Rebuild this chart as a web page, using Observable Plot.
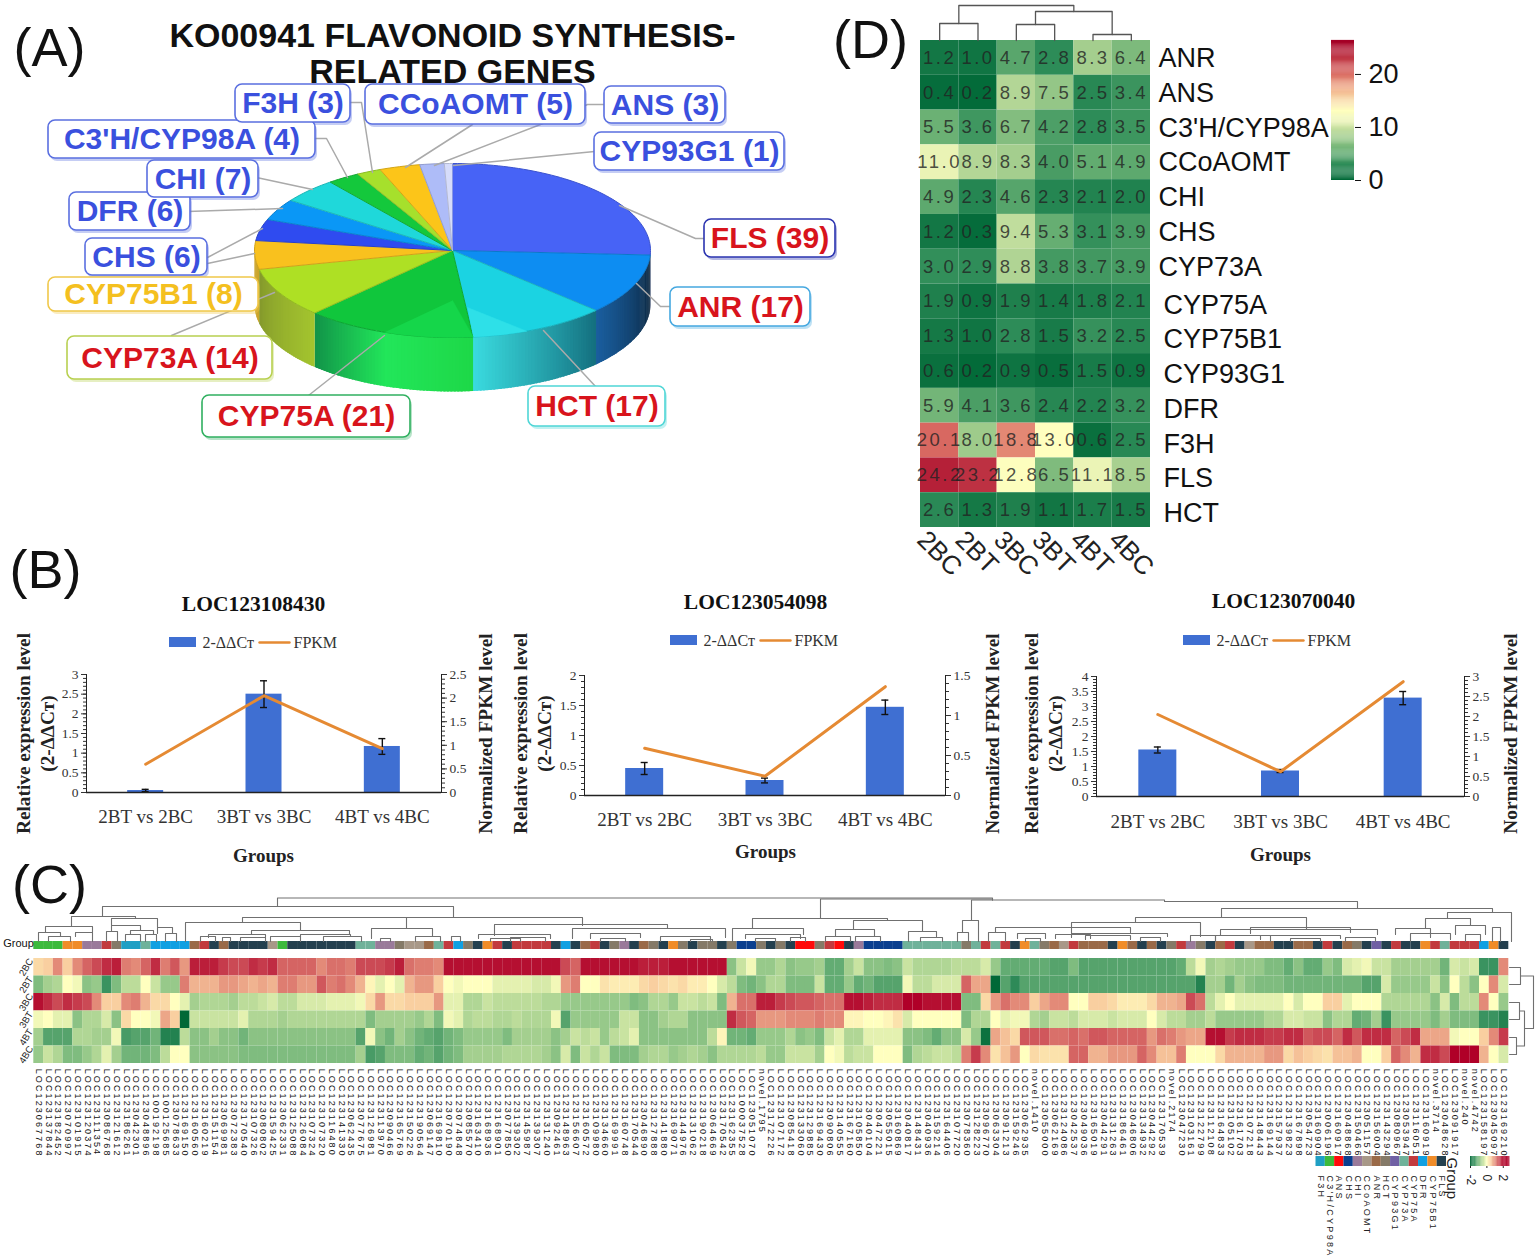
<!DOCTYPE html>
<html><head><meta charset="utf-8">
<script src="https://cdn.jsdelivr.net/npm/d3@7"></script>
<script src="https://cdn.jsdelivr.net/npm/@observablehq/plot@0.6"></script>
<style>
html,body{margin:0;padding:0;background:#fff;overflow:hidden}
#stack{position:relative;width:1535px;height:1259px;overflow:hidden}
#stack svg{position:absolute;left:0;top:0;max-width:none!important;height:1259px!important}
</style></head><body><div id="stack"></div>
<script>
// ---------- Panel A data
const pieNames=["FLS","ANR","HCT","CYP75A","CYP73A","CYP75B1","CHS","DFR","CHI","C3'H/CYP98A","F3H","CCoAOMT","ANS","CYP93G1"];
const pieCounts=[39,17,17,21,14,8,6,6,7,4,3,5,3,1];
const pieColors=["#4763f6","#0d8df2","#1bd3e2","#10c63c","#aee024","#f9c11e","#2f4bf0","#0a97f6","#1fd8da","#14c83c","#a6e02c","#fcc519","#aebcf8","#d6dcfa"];
const pieWalls=[["#0a2238","#22389c"],["#0a2238","#1a5fa0"],["#14707f","#3adce0"],["#1ed848","#22e65a","#119048"],["#a3c42e","#84982c"],["#c8a020","#c8a020"]];
// ---------- Panel B data
const bGroups=["2BT vs 2BC","3BT vs 3BC","4BT vs 4BC"];
const b1Bars=[0.05,2.5,1.17], b1Err=[0.03,0.34,0.2], b1Line=[0.6,2.05,0.93];
const b2Bars=[0.45,0.25,1.47], b2Err=[0.1,0.04,0.12], b2Line=[0.59,0.24,1.36];
const b3Bars=[1.55,0.85,3.28], b3Err=[0.1,0.05,0.22], b3Line=[2.05,0.62,2.87];
// ---------- Panel D data
const dCols=["2BC","2BT","3BC","3BT","4BT","4BC"];
const dGenes=["ANR","ANS","C3'H/CYP98A","CCoAOMT","CHI","CHS","CYP73A","CYP75A","CYP75B1","CYP93G1","DFR","F3H","FLS","HCT"];
const dANR=[1.2,1.0,4.7,2.8,8.3,6.4], dANS=[0.4,0.2,8.9,7.5,2.5,3.4], dC3H=[5.5,3.6,6.7,4.2,2.8,3.5];
const dCCo=[11.0,8.9,8.3,4.0,5.1,4.9], dCHI=[4.9,2.3,4.6,2.3,2.1,2.0], dCHS=[1.2,0.3,9.4,5.3,3.1,3.9];
const d73A=[3.0,2.9,8.8,3.8,3.7,3.9], d75A=[1.9,0.9,1.9,1.4,1.8,2.1], d75B=[1.3,1.0,2.8,1.5,3.2,2.5];
const d93G=[0.6,0.2,0.9,0.5,1.5,0.9], dDFR=[5.9,4.1,3.6,2.4,2.2,3.2], dF3H=[20.1,8.0,18.8,13.0,0.6,2.5];
const dFLS=[24.2,23.2,12.8,6.5,11.1,8.5], dHCT=[2.6,1.3,1.9,1.1,1.7,1.5];
const dValues=[dANR,dANS,dC3H,dCCo,dCHI,dCHS,d73A,d75A,d75B,d93G,dDFR,dF3H,dFLS,dHCT];
// ---------- Panel C data (tenths of z-score)
const cRows=["2BC","2BT","3BC","3BT","4BT","4BC"];
const c2BC=[4,5,10,5,10,13,15,17,18,11,10,13,17,11,14,9,18,18,18,16,15,15,17,16,17,13,13,13,13,10,12,12,11,15,15,15,16,18,12,11,
11,10,19,19,19,19,19,19,19,19,19,19,19,19,15,13,19,19,19,19,19,19,18,18,18,19,19,19,19,19,19,-9,-4,-1,-8,-8,-6,-9,-8,-8,
-7,-12,-12,-7,-4,-9,-9,-10,-9,-4,-6,-6,-6,-6,-5,-5,-5,-3,-8,-12,-12,-12,-12,-12,-13,-13,-10,-13,-13,-13,-13,-13,-13,-13,-13,-13,-13,-12,-5,-1,
-7,-6,-7,-8,-8,-8,-10,-10,-12,-9,-12,-12,-8,-10,-3,-2,-1,-4,-4,-7,-7,-7,-7,-7,-11,-3,-4,-3,-15,-15,10];
const c2BT=[-10,-7,-6,0,-1,-9,-8,-15,-10,-5,-5,0,-4,-8,-8,11,7,7,7,9,9,8,7,8,7,11,11,9,9,14,11,12,10,7,1,-2,0,-2,7,9,
9,5,0,-1,0,0,0,-2,-2,-2,-2,-3,-3,-1,9,11,0,0,3,2,2,2,4,5,4,3,4,2,2,0,-3,-5,-10,-11,-9,-6,-6,-10,-10,-10,
-4,-12,-12,-8,-12,-11,-13,-13,-13,-1,-5,-5,-3,-3,-3,13,8,8,-20,-13,-16,-13,-13,-13,-13,-13,-13,-13,-13,-13,-13,-13,-13,-13,-13,-13,-13,-13,-13,-17,
-7,-7,-11,-7,-9,-10,-10,-10,-11,-11,-11,-11,-11,-11,-11,-11,-13,-13,-3,-8,-8,-8,-8,-4,-9,0,-5,-9,0,10,-3];
const c3BC=[19,17,15,17,16,15,10,5,5,10,11,7,4,4,0,-2,-7,-6,-6,-6,-7,-5,-5,-4,-3,-5,-5,-3,-3,-3,-2,-2,-2,-1,4,9,4,4,5,5,
5,9,-2,-2,-6,-6,-4,-5,-5,-5,-5,-5,-6,-6,-8,-8,-8,-8,-8,-8,-8,-10,-9,-6,-6,-8,-4,-4,-5,-4,-10,7,12,12,18,18,16,15,14,14,
13,12,12,19,19,18,17,17,17,20,20,19,19,19,19,-10,-10,4,9,12,10,10,5,8,10,10,0,0,5,5,4,2,2,2,4,7,7,8,15,12,
-5,-2,0,-2,-2,-2,-2,-2,0,-3,0,0,5,5,-2,0,0,0,-6,-6,-6,-6,-6,-9,-3,-10,-5,-5,10,0,-8];
const c3BT=[-1,0,-2,-2,-9,-6,-6,-3,-9,4,0,0,-1,8,5,-20,-4,-4,-4,-4,-4,-2,-6,-6,-6,-7,-6,-6,-6,-6,-6,-6,-6,-6,-10,-7,-7,-7,-7,-8,
-6,-10,-1,-2,-6,-5,-5,-6,-6,-5,-6,-6,-6,-1,-13,-8,-8,-8,-8,-8,-4,-4,-9,-9,-7,-6,-6,-9,-9,-9,-9,17,14,13,9,9,9,10,10,10,
11,10,10,1,1,0,0,1,3,-3,0,0,0,0,0,-10,-6,-6,0,-2,-1,-1,-6,-7,-4,-4,-5,-3,-3,-3,-4,-3,-3,-3,0,-3,-5,-5,-7,-7,
-5,-8,-8,-8,-8,-8,-6,-6,-3,-3,-4,-4,-9,-6,-6,-12,-11,-7,-15,-8,-8,-8,-8,-10,-7,-10,-10,-10,-15,-15,-17];
const c4BT=[-7,-13,-13,-13,-6,-6,-7,-7,-1,-14,-13,-13,-11,-17,-17,-5,-9,-9,-7,-9,-9,-11,-9,-9,-9,-9,-9,-9,-9,-9,-9,-9,-9,-13,-1,-9,-11,-7,-9,-11,
-12,-13,-11,-10,-8,-8,-8,-8,-10,-7,-7,-7,-7,-9,-7,-4,-5,-4,-8,-5,-4,-2,-9,-9,-9,-9,-9,-9,-9,-5,1,-11,-11,-12,-8,-8,-8,-6,-9,-8,
-10,-4,-2,-6,-6,-2,-2,-2,-2,-9,-9,-10,-12,-9,-9,-3,-8,-19,8,6,4,14,14,14,12,12,13,12,14,14,13,13,13,13,9,12,11,9,8,8,
19,19,16,17,17,17,16,16,17,17,14,15,15,13,17,14,17,17,17,13,15,17,8,8,8,-1,0,0,5,10,16];
const c4BC=[-8,-4,-6,-10,-10,-8,-6,-2,-7,-11,-11,-11,-10,-5,0,0,-9,-9,-9,-9,-9,-10,-10,-10,-10,-10,-10,-10,-10,-10,-10,-10,-10,-7,-14,-13,-10,-10,-10,-12,
-11,-13,-11,-10,-7,-7,-7,-7,-6,-6,-6,-6,-7,-9,-3,-10,-4,-6,-4,-10,-10,-10,-7,-6,-6,-8,-7,-6,-7,-9,-6,-6,-6,-6,-5,-8,-8,-4,-4,-4,
-7,0,-1,-5,-4,-4,0,0,0,-10,-6,-5,-4,-4,-5,11,16,10,3,6,9,0,4,3,3,3,13,13,7,7,9,9,9,13,10,6,6,11,0,0,
0,4,7,7,7,7,9,9,4,6,5,4,3,6,6,7,0,0,5,13,10,7,17,17,15,20,20,20,7,0,-3];
const cValues=[c2BC,c2BT,c3BC,c3BT,c4BT,c4BC];
const cGroups=["C3H","C3H","C3H","CYP75B1","CYP75B1","CHI","CHI","CYP75A","HCT","F3H","F3H","CYP73A","DFR","DFR","DFR","DFR","ANR","CYP75A","FLS","ANR",
"FLS","FLS","FLS","FLS","CCoAOMT","C3H","FLS","FLS","FLS","FLS","FLS","FLS","FLS","CYP73A","CYP73A","CHI","CHI","HCT","CCoAOMT","CCoAOMT",
"ANR","CYP73A","CYP75A","DFR","HCT","FLS","CYP75B1","CYP75A","FLS","CYP75A","CYP75A","CYP75A","CYP75A","FLS","DFR","FLS","ANR","CYP75A","FLS","HCT",
"CHI","FLS","ANR","HCT","FLS","CYP75B1","HCT","FLS","HCT","HCT","FLS","HCT","CHS","CHS","HCT","FLS","HCT","FLS","ANS","ANS",
"HCT","CYP75A","ANS","FLS","CHI","CHS","CHS","CHS","CHS","CYP73A","CYP73A","CYP73A","CYP73A","CYP73A","CYP73A","HCT","CYP73A","CYP75A","CYP73A","CYP75A",
"FLS","CYP75B1","CYP73A","HCT","ANR","CCoAOMT","CYP75A","ANR","ANR","ANR","FLS","CYP75B1","ANR","FLS","ANR","FLS","HCT","CYP75A","CHI","HCT",
"FLS","ANR","CYP75A","FLS","CCoAOMT","ANR","ANR","FLS","FLS","ANR","ANR","FLS","CYP75A","FLS","ANR","HCT","FLS","CYP93G1","FLS","CYP75A",
"FLS","FLS","CYP75B1","CYP75A","CYP73A","CYP75A","CYP75A","CYP75A","DFR","CYP75B1","FLS"];
const groupPalette={F3H:"#1f9fc4",C3H:"#3cba3c",ANS:"#ff0a0a",CHS:"#0b3f8f",CHI:"#9a7a9a",CCoAOMT:"#a89888",ANR:"#9a6a48",HCT:"#857a68",CYP93G1:"#7060a4",CYP73A:"#6fb29a",CYP75A:"#c23a3e",DFR:"#10a0e2",CYP75B1:"#f08c28",FLS:"#24404f"};
const legendNames=["F3H","C3'H/CYP98A","ANS","CHS","CHI","CCoAOMT","ANR","HCT","CYP93G1","CYP73A","CYP75A","DFR","CYP75B1","FLS"];
const legendKeys=["F3H","C3H","ANS","CHS","CHI","CCoAOMT","ANR","HCT","CYP93G1","CYP73A","CYP75A","DFR","CYP75B1","FLS"];
const cGenes=["LOC123067768","LOC123137844","LOC123182452","LOC123070997","LOC123101915","LOC123120374","LOC123111354","LOC123086768","LOC123121612","LOC123186261","LOC123042301","LOC123048896","LOC100192198","LOC100125685","LOC123078633","LOC123169150","LOC123160560","LOC123160219","LOC123151154","LOC123069981","LOC123072383","LOC123170540","LOC123107326","LOC123080802","LOC123159425","LOC123062331","LOC123125088","LOC123126084","LOC123107324","LOC123107320","LOC123116480","LOC123141330","LOC123062435","LOC123077675","LOC123126981","LOC123113970","LOC123090466","LOC123165769","LOC123150226","LOC123190564","LOC123069147","LOC123169810","LOC123070190","LOC123074848","LOC123085570","LOC123163410","LOC123168936","LOC123168901",
"LOC123077850","LOC123139302","LOC123145987","LOC123139307","LOC123131240","LOC123092461","LOC123148963","LOC123156607","LOC123160572","LOC123109980","LOC123134660","LOC123169991","LOC123160748","LOC123170544","LOC123046890","LOC123127888","LOC123141880","LOC123169071","LOC123144976","LOC123131062","LOC123190218","LOC123064669","LOC123170542","LOC123162355","LOC100037528","LOC123051070","novel.1795","LOC123172226","LOC123107172","LOC123085418","LOC123133060","LOC123129885","LOC123169430","LOC123090806","LOC123140555","LOC123167160","LOC123105850","LOC123040104","LOC123047221","LOC123055015","LOC123160869","LOC123040817","LOC123148431","LOC123040936","LOC123159214","LOC123164406","LOC123107720","LOC123078360","LOC123128223","LOC123096770","LOC123063304","LOC123091213","LOC123159246","LOC123062935","novel.1410","LOC123055000","LOC123062169","LOC123124086","LOC123042537","LOC123049036","LOC123165019","LOC123044291","LOC123131263","LOC123186461","LOC123046806","LOC123134932","LOC123044292","LOC123170539","novel.2174","LOC123047230","LOC123103161","LOC123122799","LOC123112108","LOC123164833","LOC123105102","LOC123161703","LOC123107218","LOC123148443","LOC123169144","LOC123157937","LOC123139823","LOC123167898","LOC123054723","LOC123160904","LOC123006196","LOC123160917","LOC123048868","LOC123150466","LOC123051157","LOC123156004","LOC123143294","LOC123080967","LOC123053947","LOC123116051","LOC123160919","novel.3714","LOC123048628","LOC123091917","novel.240","novel.4742","LOC123158197","LOC123045097","LOC123169210"];

// ---------- Layout tables
const W=1535,H=1259,stack=document.getElementById("stack");
const add=p=>stack.appendChild(p);
const SANS="Liberation Sans",SERIF="Liberation Serif";
const band=domain=>({type:"band",domain,padding:0,round:false,axis:null});
// a page layer: x and y scales run over the picture's own pixels
const layer=(marks,style={})=>Plot.plot({width:W,height:H,margin:0,x:{domain:[0,W],range:[0,W],axis:null},y:{domain:[0,H],range:[0,H],axis:null},color:{type:"identity"},style:{background:"transparent",...style},marks});
const framed=(l,r,t,b,o)=>Plot.plot({width:W,height:H,marginLeft:l,marginRight:W-r,marginTop:t,marginBottom:H-b,...o,style:{background:"transparent",fontFamily:SANS,...(o.style||{})}});
const RED="#d8141c",BLUE="#3a50de";
const labelLayout={
"F3H":{x1:235,x2:350,y1:84,y2:122,c:BLUE,b:"#5a6fe0",leader:[[350,102],[361,102],[372,172]]},
"CCoAOMT":{x1:365,x2:585,y1:84,y2:124,c:BLUE,b:"#5a6fe0",leader:[[472,124],[405,167]]},
"ANS":{x1:604,x2:725,y1:86,y2:123,c:BLUE,b:"#5a6fe0",leader:[[604,104],[587,104],[540,124],[434,165]]},
"C3'H/CYP98A":{x1:48,x2:315,y1:120,y2:158,c:BLUE,b:"#5a6fe0",leader:[[315,138],[326,138],[347,177]]},
"CYP93G1":{x1:594,x2:784,y1:132,y2:170,c:BLUE,b:"#5a6fe0",leader:[[594,151],[453,165]]},
"CHI":{x1:147,x2:258,y1:160,y2:197,c:BLUE,b:"#5a6fe0",leader:[[256,177],[312,189]]},
"DFR":{x1:69,x2:190,y1:192,y2:230,c:BLUE,b:"#5a6fe0",leader:[[187,211],[282,208]]},
"CHS":{x1:85,x2:207,y1:238,y2:275,c:BLUE,b:"#5a6fe0",leader:[[207,257],[262,228]]},
"CYP75B1":{x1:48,x2:258,y1:277,y2:311,c:"#f4c01f",b:"#f0c84a",leader:[[207,263],[254,253]]},
"FLS":{x1:704,x2:835,y1:219,y2:257,c:RED,b:"#2b34b0",leader:[[706,238],[695,238],[619,205]]},
"ANR":{x1:670,x2:810,y1:287,y2:326,c:RED,b:"#45a8e0",leader:[[670,306],[660,306],[636,283]]},
"HCT":{x1:528,x2:665,y1:386,y2:426,c:RED,b:"#4fd6d6",leader:[[596,387],[543,330]]},
"CYP75A":{x1:202,x2:410,y1:395,y2:437,c:RED,b:"#30b060",leader:[[308,395],[384,335]]},
"CYP73A":{x1:67,x2:272,y1:336,y2:379,c:RED,b:"#b8d050",leader:[[171,335],[274,292]]}};
const PIE={cx:452,cy:250,rx:198,ry:87,d:54};
const pt=(deg,dy=0)=>{const a=deg*Math.PI/180;return [PIE.cx+PIE.rx*Math.sin(a),PIE.cy+dy-PIE.ry*Math.cos(a)]};
const total=d3.sum(pieCounts);
let acc=0;const sliceAngles=pieCounts.map(c=>{const a0=acc/total*360;acc+=c;return [a0,acc/total*360]});

// ---------- Panel A
(function(){
 const wall=[],top=[],inner=[],lead=[];
 sliceAngles.forEach(([a0,a1],i)=>{
  const s=Math.max(a0,90),e=Math.min(a1,270);
  if(e>s&&pieWalls[i]){
   const shade=d3.piecewise(d3.interpolateRgb,pieWalls[i]);
   for(let a=s;a<e;a+=1){const b=Math.min(a+1.6,e),id=`${i}-${a}`,c=shade((a-s)/(e-s));
    [pt(a),pt(b),pt(b,PIE.d),pt(a,PIE.d)].forEach(p=>wall.push({id,x:p[0],y:p[1],c}));}
  }
  const pts=[[PIE.cx,PIE.cy]];
  for(let a=a0;a<a1;a+=1.5)pts.push(pt(a));
  pts.push(pt(a1));
  pts.forEach(p=>top.push({id:i,x:p[0],y:p[1],c:pieColors[i],s:d3.color(pieColors[i]).darker(.5).formatHex()}));
 });
 // the lower faces that show through the front of the top disc
 const wedge=(id,apex,from,to,c)=>{const ps=[apex];for(let a=from;a<=to;a+=2)ps.push(pt(a));ps.forEach(p=>inner.push({id,x:p[0],y:p[1],c}))};
 wedge("h",[467,307],158,174,"#2ee0e8");wedge("g",[PIE.cx,PIE.cy+50],174,200,"#15d64a");
 pieNames.forEach(n=>labelLayout[n].leader.forEach(p=>lead.push({id:n,x:p[0],y:p[1]})));
 const boxes=pieNames.map((n,i)=>({...labelLayout[n],t:`${n} (${pieCounts[i]})`}));
 add(layer([
  Plot.line(wall,{x:"x",y:"y",z:"id",fill:"c",stroke:null}),
  Plot.line(top,{x:"x",y:"y",z:"id",fill:"c",stroke:"s",strokeWidth:1}),
  Plot.line(inner,{x:"x",y:"y",z:"id",fill:"c",stroke:"c",strokeWidth:.5}),
  Plot.line(lead,{x:"x",y:"y",z:"id",stroke:"#aaa",strokeWidth:1.5}),
  Plot.text(["KO00941 FLAVONOID SYNTHESIS-"],{x:()=>452,y:()=>36,fontSize:34,fontWeight:"bold",fontFamily:SANS,fill:"#111"}),
  Plot.text(["RELATED GENES"],{x:()=>452,y:()=>72,fontSize:34,fontWeight:"bold",fontFamily:SANS,fill:"#111"}),
  Plot.rect(boxes,{x1:"x1",x2:"x2",y1:"y1",y2:"y2",rx:7,fill:"b",fillOpacity:.35,dx:2,dy:3}),
  Plot.rect(boxes,{x1:"x1",x2:"x2",y1:"y1",y2:"y2",rx:7,fill:"white",stroke:"b",strokeWidth:1.6}),
  Plot.text(boxes,{x:d=>(d.x1+d.x2)/2,y:d=>(d.y1+d.y2)/2,text:"t",fill:"c",fontSize:30,fontWeight:"bold",fontFamily:SANS})
 ]));
})();

// ---------- Panel letters
add(layer([Plot.text([{t:"(A)",x:49,y:48},{t:"(B)",x:45,y:570},{t:"(C)",x:49,y:885},{t:"(D)",x:870,y:40}],{x:"x",y:"y",text:"t",fontSize:54,fontFamily:SANS,fill:"#111"})]));

// ---------- Panel B
function dual(c){
 const rows=bGroups.map((g,i)=>({g,bar:c.bars[i],err:c.err[i],line:c.line[i]}));
 const bw=(c.R-c.L)/3,inset=(bw-c.barW)/2,capInset=bw/2-3.5;
 add(framed(c.L,c.R,c.T,c.B,{x:band(bGroups),y:{domain:[0,c.lmax],axis:null},style:{fontFamily:SERIF},marks:[
  Plot.barY(rows,{x:"g",y:"bar",fill:"#3f6fd2",insetLeft:inset,insetRight:inset}),
  Plot.ruleX(rows,{x:"g",y1:d=>d.bar-d.err,y2:d=>d.bar+d.err,stroke:"#111",strokeWidth:1.4}),
  Plot.tickY(rows,{x:"g",y:d=>d.bar+d.err,stroke:"#111",strokeWidth:1.4,insetLeft:capInset,insetRight:capInset}),
  Plot.tickY(rows,{x:"g",y:d=>d.bar-d.err,stroke:"#111",strokeWidth:1.4,insetLeft:capInset,insetRight:capInset}),
  Plot.frame({anchor:"left",stroke:"#222"}),
  Plot.ruleY([0],{stroke:"#222",strokeWidth:1.5}),
  Plot.axisY(d3.range(0,c.lmax+.01,.1),{anchor:"left",tickSize:3,tickFormat:()=>"",label:null,color:"#333"}),
  Plot.axisY(d3.range(0,c.lmax+.01,.5),{anchor:"left",tickSize:5,tickPadding:3,tickFormat:d=>String(d),label:null,fontSize:13.5,color:"#333"}),
  Plot.axisX({anchor:"bottom",tickSize:0,tickPadding:c.pad,label:null,fontSize:19,color:"#333"})
 ]}));
 add(framed(c.L,c.R,c.T,c.B,{x:band(bGroups),y:{domain:[0,c.rmax],axis:null},style:{fontFamily:SERIF},marks:[
  Plot.line(rows,{x:"g",y:"line",stroke:"#e58a33",strokeWidth:3}),
  Plot.frame({anchor:"right",stroke:"#222"}),
  Plot.axisY(d3.range(0,c.rmax+.01,.1),{anchor:"right",tickSize:3,tickFormat:()=>"",label:null,color:"#333"}),
  Plot.axisY(d3.range(0,c.rmax+.01,.5),{anchor:"right",tickSize:5,tickPadding:3,tickFormat:d=>String(d),label:null,fontSize:13.5,color:"#333"})
 ]}));
 add(layer([
  Plot.text([{t:c.title,x:c.tx,y:c.ty}],{x:"x",y:"y",text:"t",fontSize:21.5,fontWeight:"bold",fontFamily:SERIF,fill:"#111"}),
  Plot.text([{t:"Groups",x:c.gx,y:c.gy}],{x:"x",y:"y",text:"t",fontSize:19,fontWeight:"bold",fontFamily:SERIF,fill:"#222"}),
  Plot.text([{t:"Relative expression level",x:c.yl,y:733},{t:"(2-ΔΔCт)",x:c.yl+24,y:733},{t:"Normalized FPKM level",x:c.yr,y:733}],{x:"x",y:"y",text:"t",rotate:-90,fontSize:19.3,fontWeight:"bold",fontFamily:SERIF,fill:"#222"}),
  Plot.rect([c.leg],{x1:d=>d,x2:d=>d+27,y1:()=>c.legY-5,y2:()=>c.legY+5,fill:"#3f6fd2"}),
  Plot.line([c.leg+90,c.leg+120],{x:d=>d,y:()=>c.legY,stroke:"#e58a33",strokeWidth:2.4}),
  Plot.text([{t:"2-ΔΔCт",x:c.leg+33},{t:"FPKM",x:c.leg+124}],{x:"x",y:()=>c.legY,text:"t",textAnchor:"start",fontSize:16,fontFamily:SERIF,fill:"#333"})
 ]));
}
dual({title:"LOC123108430",tx:253,ty:604,bars:b1Bars,err:b1Err,line:b1Line,L:86,R:441,T:674,B:792,lmax:3,rmax:2.5,barW:36,pad:17,gx:263,gy:855,yl:23,yr:485,leg:169,legY:642});
dual({title:"LOC123054098",tx:755,ty:602,bars:b2Bars,err:b2Err,line:b2Line,L:584,R:945,T:675,B:795,lmax:2,rmax:1.5,barW:38,pad:17,gx:765,gy:851,yl:520,yr:992,leg:670,legY:640});
dual({title:"LOC123070040",tx:1283,ty:601,bars:b3Bars,err:b3Err,line:b3Line,L:1096,R:1464,T:676,B:796,lmax:4,rmax:3,barW:38,pad:18,gx:1280,gy:854,yl:1031,yr:1510,leg:1183,legY:640});

// ---------- Panel C
const cColor={type:"linear",domain:[-2,-1.5,-1,-.5,0,.5,1,1.5,2],range:["#006837","#3a9360","#7fbc7f","#bcdc9a","#ffffbf","#f9cfa0","#e38a78","#cb4a55","#b00028"],clamp:true};
const cCells=[];cRows.forEach((r,j)=>cValues[j].forEach((v,i)=>cCells.push({i,r,v:v/10})));
const cIdx=d3.range(cGenes.length);
add(framed(33.3,1508.3,958,1063,{x:band(cIdx),y:band(cRows),color:cColor,marks:[Plot.cell(cCells,{x:"i",y:"r",fill:"v"})]}));
add(framed(33.3,1508.3,941,949,{x:band(cIdx),y:band(["Group"]),color:{type:"identity"},marks:[Plot.cell(cGroups.map((g,i)=>({i,c:groupPalette[g]})),{x:"i",y:()=>"Group",fill:"c"})]}));
// gene names below the heat map
add(framed(33.3,1508.3,958,1063,{x:band(cIdx),y:band(cRows),style:{letterSpacing:"2.1px"},marks:[Plot.text(cGenes,{x:(d,i)=>i,y:()=>"4BC",dy:14,text:d=>d,rotate:90,textAnchor:"start",fontSize:9,fill:"#111",fontFamily:SANS})]}));
// row labels
add(framed(0,33,958,1063,{x:{domain:[0,1],axis:null},y:band(cRows),marks:[Plot.text(cRows,{x:()=>.78,y:d=>d,rotate:-58,fontSize:9.5,fill:"#222"}),]}));
// dendrogram [x1,x2,top,left drop,right drop]
const cTree=[[277,992,897.5,906,899.5],[820,992,898.5,918,899.5],[971,1164,899.5,920,901],[1164,1357,901,901,908],[1221,1492,908,917,912],
[102,453,906,916,917],[71,135,916,926,918],[45,92,926,932,932],[38,60,932,941,936],[48,70,936,941,941],[75,92,932,936,941],[111,157,918,925,927],[106,117,931,941,941],[111,140,925,931,930],[130,153,930,934,934],[125,140,934,941,941],[145,156,934,941,941],[157,172,927,933,933],[165,176,933,941,941],
[185,300,922,941,930],[242,582,917,922,925],[251,349,930,934,934],[200,215,936,941,941],[208,265,934,937,937],[222,230,937,941,941],[240,265,937,941,941],[270,300,936,941,941],[323,361,936,941,941],[300,350,934,937,936],[406,406,917,928,928],[371,432,928,938,936],[380,390,938,941,941],[415,440,936,941,941],
[494,667,924,935,928],[451,460,936,941,941],[478,550,934,938,938],[490,520,938,941,941],[510,545,937,941,941],[572,725,928,938,937],[590,640,933,938,937],[600,625,938,941,941],[660,710,936,941,941],[690,712,939,941,941],
[752,887,918,928,920],[732,803,928,941,934],[745,800,934,938,938],[755,775,938,941,941],[790,805,937,941,941],[853,922,920,929,931],[835,874,929,936,936],[825,850,936,941,941],[855,880,936,941,941],[908,936,931,941,936],[920,942,937,941,941],
[962,978,920,932,941],[957,968,932,941,941],[1135,1306,917,922,929],[1071,1200,922,933,936],[995,1130,927,932,932],[988,1005,932,941,941],[1017,1045,933,938,938],[1025,1040,938,941,941],[1055,1090,934,938,938],[1071,1167,933,937,936],[1085,1130,935,939,939],[1140,1160,937,941,941],[1190,1215,935,941,941],
[1220,1377,929,935,934],[1250,1350,927,933,932],[1215,1270,935,941,941],[1260,1340,935,939,938],[1290,1320,938,941,941],[1345,1375,937,941,941],[1425,1470,918,928,925],[1447,1511,912,918,941],[1395,1430,928,934,937],[1410,1450,933,941,939],[1455,1485,925,934,934],[1465,1480,934,941,941],[1492,1500,927,941,941]];
const treeLine=(b,id)=>[{id,x:b[0],y:b[3]},{id,x:b[0],y:b[2]},{id,x:b[1],y:b[2]},{id,x:b[1],y:b[4]}];
const rowTree=[[967,984,1520,1509,1509],[1002,1019,1519,1509,1509],[1037,1054,1516,1509,1509],[1010.5,1045.5,1524,1519,1516],[975.5,1028,1533,1520,1524]];
const rowLine=(b,id)=>[{id,x:b[3],y:b[0]},{id,x:b[2],y:b[0]},{id,x:b[2],y:b[1]},{id,x:b[4],y:b[1]}];
const cLegend=legendNames.map((t,i)=>({t,i,c:groupPalette[legendKeys[i]]}));
add(layer([
 Plot.line(cTree.flatMap(treeLine),{x:"x",y:"y",z:"id",stroke:"#707070",strokeWidth:1.1}),
 Plot.line(rowTree.flatMap(rowLine),{x:"x",y:"y",z:"id",stroke:"#707070",strokeWidth:1.1}),
 Plot.text(["Group"],{x:()=>18,y:()=>943,fontSize:11,fill:"#111",fontFamily:SANS})
]));
// group legend
add(framed(1315.5,1446,1156,1166,{x:band(d3.range(14)),y:band(["k"]),color:{type:"identity"},marks:[Plot.cell(cLegend,{x:"i",y:()=>"k",fill:"c"})]}));
add(framed(1315.5,1446,1156,1166,{x:band(d3.range(14)),y:band(["k"]),style:{letterSpacing:"2.3px"},marks:[Plot.text(cLegend,{x:"i",y:()=>"k",dy:14,text:"t",rotate:90,textAnchor:"start",fontSize:9,fill:"#222",fontFamily:SANS})]}));
add(layer([Plot.text(["Group"],{x:()=>1451,y:()=>1157,rotate:90,textAnchor:"start",fontSize:15,fill:"#222",fontFamily:SANS})]));
// z-score legend
const zStops=d3.range(-2,2.75,.1);
add(framed(1470,1508.5,1156,1166,{x:{domain:[-2,2.7]},y:{domain:[0,1],axis:null},color:cColor,marks:[
 Plot.rect(zStops,{x1:d=>d,x2:d=>d+.11,y1:()=>0,y2:()=>1,fill:d=>d}),
 Plot.axisX([-2,0,2],{anchor:"bottom",tickSize:2,tickPadding:6,textAnchor:"start",tickRotate:90,label:null,fontSize:12,color:"#222",tickFormat:d=>String(d)})
]}));

// ---------- Panel D
const dColor={type:"linear",domain:[0,2.8,5.5,8.5,11,13,17,20,26],range:["#006837","#2d8c58","#6bb174","#a8d090","#eaf3b5","#ffffbf","#f2b48e","#d96a62","#a50026"],clamp:true};
const dCells=[];dGenes.forEach((g,j)=>dCols.forEach((c,i)=>dCells.push({g,c,v:dValues[j][i]})));
const dBase={x:band(dCols),y:band(dGenes)};
add(framed(920,1150,40,527,{...dBase,color:dColor,marks:[
 Plot.cell(dCells,{x:"c",y:"g",fill:"v"}),
 Plot.axisY(dGenes.slice(0,7),{anchor:"right",tickSize:0,tickPadding:8,fontSize:27,label:null,color:"#111",dy:.5}),
 Plot.axisY(dGenes.slice(7),{anchor:"right",tickSize:0,tickPadding:13,fontSize:27,label:null,color:"#111",dy:3.5}),
 Plot.axisX({anchor:"bottom",tickSize:0,tickPadding:8,tickRotate:45,dx:-18,fontSize:26,label:null,color:"#222"})
]}));
add(framed(920,1150,40,527,{...dBase,style:{letterSpacing:"2.5px"},marks:[
 Plot.text(dCells,{x:"c",y:"g",text:d=>d.v.toFixed(1),fontSize:18.5,fill:"#222",fillOpacity:.8,fontFamily:SANS})
]}));
// column dendrogram: positions in columns, heights in pixels above the cells
const dTree=[[.5,1.5,17,0,0],[2.5,3.5,16,0,0],[4.5,5.5,6,0,0],[3,5,29,16,6],[1,4,35,17,29]];
add(framed(920,1150,0,40,{x:{domain:[0,6],axis:null},y:{domain:[0,40],axis:null},marks:[Plot.line(dTree.flatMap(treeLine),{x:"x",y:"y",z:"id",stroke:"#555",strokeWidth:1.3})]}));
// colour bar
const dStops=d3.range(0,26.4,.2);
add(framed(1331,1354,40,180,{x:{domain:[0,1],axis:null},y:{domain:[0,26.4]},color:dColor,marks:[
 Plot.rect(dStops,{x1:()=>0,x2:()=>1,y1:d=>d,y2:d=>d+.22,fill:d=>d}),
 Plot.axisY([0,10,20],{anchor:"right",tickSize:6,tickPadding:8,fontSize:27,label:null,color:"#111",tickFormat:d=>String(d)})
]}));
</script></body></html>
